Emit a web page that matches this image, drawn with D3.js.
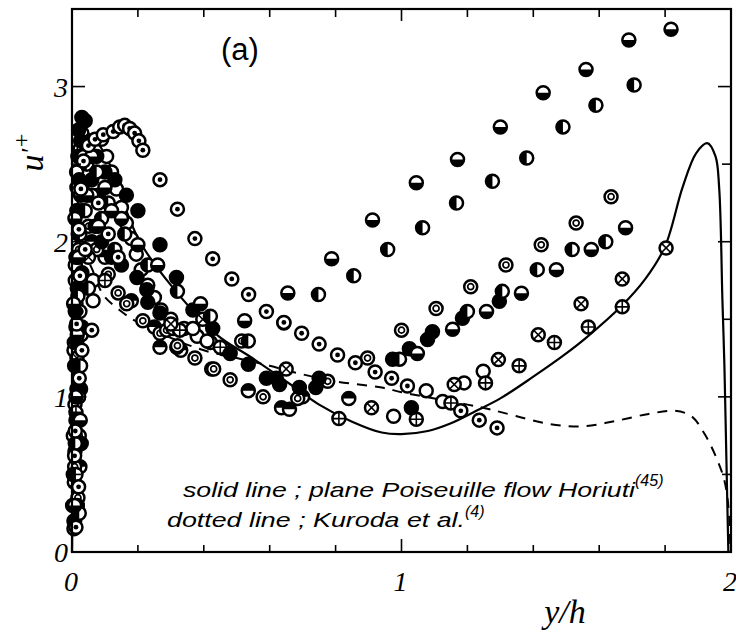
<!DOCTYPE html>
<html><head><meta charset="utf-8">
<script src="https://cdn.jsdelivr.net/npm/d3@7"></script>
<style>body{margin:0;background:#fff}</style></head>
<body><svg id="c" width="736" height="640"></svg>
<script>
// ---------- data (y/h , u'+) ----------
const xTickLabels = ["0","1","2"];
const yTickLabels = ["0","1","2","3"];

const solidLine = [[0,0],[0.004,0.8],[0.008,1.5],[0.014,2.05],[0.022,2.4],[0.035,2.58],[0.055,2.64],[0.075,2.64],[0.1,2.56],[0.13,2.42],[0.165,2.2],[0.206,2.0],[0.3,1.72],[0.44,1.40],[0.54,1.26],[0.67,1.07],[0.75,0.95],[0.85,0.84],[0.94,0.77],[1.0,0.76],[1.08,0.78],[1.15,0.83],[1.227,0.91],[1.3,0.99],[1.4,1.13],[1.5,1.28],[1.56,1.38],[1.67,1.59],[1.74,1.76],[1.8,1.97],[1.853,2.35],[1.894,2.57],[1.928,2.635],[1.953,2.55],[1.964,2.35],[1.974,1.62],[1.98,1.2],[1.986,0.6],[1.992,0]];

const dashedLine = [[0,0],[0.004,0.7],[0.01,1.35],[0.02,1.75],[0.035,1.9],[0.055,1.85],[0.094,1.66],[0.15,1.55],[0.2,1.48],[0.3,1.38],[0.4,1.3],[0.5,1.25],[0.6,1.2],[0.69,1.15],[0.8,1.1],[0.94,1.06],[1.0,1.03],[1.1,0.99],[1.2,0.95],[1.267,0.92],[1.35,0.875],[1.45,0.825],[1.55,0.81],[1.65,0.845],[1.75,0.89],[1.83,0.91],[1.88,0.875],[1.92,0.76],[1.955,0.61],[1.98,0.46],[1.994,0.25],[1.998,0]];

// circle with centre dot
const dotSeries = [[0.012,0.16],[0.02,0.42],[0.01,0.78],[0.022,1.12],[0.014,1.47],[0.024,1.78],[0.021,2.08],[0.027,2.34],[0.035,2.52],[0.05,2.62],[0.07,2.66],[0.095,2.69],[0.125,2.71],[0.145,2.74],[0.16,2.75],[0.175,2.73],[0.19,2.7],[0.203,2.65],[0.215,2.59],[0.267,2.40],[0.32,2.21],[0.373,2.02],[0.427,1.89],[0.485,1.76],[0.536,1.66],[0.59,1.55],[0.643,1.48],[0.697,1.41],[0.75,1.34],[0.806,1.27],[0.86,1.22],[0.92,1.16],[0.97,1.12],[1.018,1.07],[1.18,0.91],[1.236,0.85],[1.29,0.80],
  [0.008,0.62],[0.03,1.3],[0.06,1.43],[0.04,1.95],[0.08,2.25],[0.11,2.05],[0.14,1.9]];

// double circle
const ringSeries = [[0.018,0.35],[0.008,0.55],[0.022,0.75],[0.009,0.95],[0.024,1.55],[0.02,1.95],[0.03,2.2],[0.05,2.1],[0.075,1.95],[0.11,1.79],[0.14,1.67],[0.166,1.60],[0.215,1.49],[0.267,1.41],[0.32,1.33],[0.373,1.25],[0.43,1.18],[0.48,1.11],[0.58,1.00],[0.685,0.99],[0.776,1.10],[0.897,1.25],[1.0,1.43],[1.105,1.57],[1.21,1.71],[1.317,1.85],[1.424,1.98],[1.53,2.12],[1.636,2.29],
  [0.006,0.15],[0.014,1.2],[0.01,1.75],[0.015,2.35],[0.025,2.6],[0.287,1.43],[0.515,1.36]];

// lower half filled
const halfBottomSeries = [[0.008,0.3],[0.025,0.85],[0.016,1.4],[0.02,1.9],[0.026,2.3],[0.035,2.55],[0.06,2.55],[0.1,2.35],[0.15,2.15],[0.2,1.98],[0.26,1.85],[0.39,1.6],[0.524,1.49],[0.655,1.67],[0.788,1.89],[0.912,2.14],[1.045,2.38],[1.17,2.53],[1.30,2.74],[1.43,2.96],[1.56,3.11],[1.69,3.30],[1.818,3.37],
  [1.048,1.28],[1.155,1.436],[1.258,1.55],[1.364,1.668],[1.47,1.82],[1.576,1.95],[1.68,2.09],
  [0.012,1.0],[0.005,1.6],[0.009,2.15],[0.045,2.3],[0.08,2.1],[0.12,2.2]];

// left half filled
const halfLeftSeries = [[0.022,0.25],[0.01,0.7],[0.026,1.2],[0.018,1.65],[0.024,2.05],[0.03,2.35],[0.045,2.5],[0.075,2.45],[0.11,2.25],[0.16,2.05],[0.23,1.85],[0.32,1.68],[0.42,1.52],[0.535,1.36],[0.643,1.476],[0.748,1.66],[0.855,1.78],[0.958,1.95],[1.064,2.09],[1.167,2.25],[1.276,2.39],[1.38,2.54],[1.49,2.74],[1.59,2.88],[1.706,3.01],
  [0.994,1.243],[1.2,1.55],[1.306,1.68],[1.412,1.82],[1.518,1.95],[1.62,2.0],
  [0.012,0.5],[0.02,1.0],[0.012,1.45],[0.04,2.2],[0.06,2.3],[0.09,2.15],[0.13,1.95],[0.05,1.7]];

// upper half filled
const halfTopSeries = [[0.024,0.55],[0.015,1.05],[0.028,1.4],[0.06,2.0],[0.1,1.9],[0.18,1.62],[0.25,1.45],[0.33,1.3],[0.424,1.18],[0.535,1.04],[0.636,0.93],[0.84,0.99],
  [0.015,0.3],[0.007,1.35],[0.03,1.8],[0.267,1.32],[0.318,1.32],[0.66,0.92],[0.7,1.0]];

// solid
const filledSeries = [[0.016,0.3],[0.009,0.65],[0.02,1.0],[0.014,1.35],[0.016,1.7],[0.019,2.05],[0.022,2.4],[0.026,2.65],[0.03,2.8],[0.04,2.78],[0.055,2.65],[0.075,2.55],[0.1,2.45],[0.13,2.4],[0.165,2.3],[0.2,2.2],[0.267,1.98],[0.317,1.77],[0.367,1.56],[0.427,1.44],[0.48,1.28],[0.535,1.21],[0.59,1.12],[0.63,1.08],[0.69,1.06],[0.75,1.12],[1.03,0.93],
  [0.973,1.243],[1.024,1.31],[1.079,1.37],[1.094,1.42],[1.185,1.507],[1.297,1.616],
  [0.008,0.2],[0.004,0.5],[0.012,0.85],[0.008,1.2],[0.026,1.05],[0.01,1.55],[0.012,1.9],[0.015,2.2],[0.018,2.55],[0.02,2.72],[0.045,2.6],[0.06,2.4],[0.08,2.3],[0.07,2.1],[0.09,2.0],[0.12,1.9],[0.15,1.85],[0.197,1.77],[0.227,1.69],[0.23,1.61],[0.267,1.54],[0.74,1.06],[0.62,1.12],[0.028,0.7],[0.03,1.45]];

// open circle
const openSeries = [[0.005,0.5],[0.018,1.0],[0.012,1.6],[0.016,2.2],[0.09,2.66],[0.105,2.55],[0.12,2.45],[0.135,2.34],[0.15,2.22],[0.165,2.12],[0.18,2.02],[0.195,1.92],[0.21,1.82],[0.23,1.72],[0.25,1.64],[0.27,1.56],[0.3,1.5],[0.34,1.44],[0.38,1.39],[0.42,1.35],[0.46,1.31],[0.976,0.875],[1.075,1.04],[1.125,0.97],[1.19,1.09],[1.248,1.165],
  [0.002,0.3],[0.004,0.75],[0.006,1.3],[0.01,1.85],[0.014,2.45],[0.03,2.7],[0.064,1.75],[0.064,1.62],[0.367,1.44],[0.41,1.36]];

// circle with x
const crossSeries = [[0.007,0.45],[0.015,1.25],[0.3,1.47],[0.65,1.18],[0.909,0.93],[1.16,1.08],[1.294,1.24],[1.415,1.40],[1.545,1.60],[1.67,1.76],[1.803,1.96],
  [0.397,1.50],[0.05,1.9]];

// circle with +
const plusSeries = [[0.006,0.2],[0.012,0.9],[0.307,1.44],[0.45,1.32],[0.81,0.86],[1.045,0.856],[1.15,0.96],[1.255,1.09],[1.357,1.20],[1.464,1.35],[1.567,1.45],[1.67,1.58],
  [0.327,1.43],[0.1,1.75]];

// ---------- scales ----------
const svg = d3.select("#c");
const x = d3.scaleLinear().domain([0,2]).range([72,731]);
const y = d3.scaleLinear().domain([0,3.5]).range([552,9]);

// ---------- lines ----------
const line = d3.line().x(d=>x(d[0])).y(d=>y(d[1])).curve(d3.curveCatmullRom.alpha(0.5));
svg.append("path").attr("d", line(dashedLine)).attr("fill","none").attr("stroke","#000").attr("stroke-width",2).attr("stroke-dasharray","10,8");
svg.append("path").attr("d", line(solidLine)).attr("fill","none").attr("stroke","#000").attr("stroke-width",2.2);

// ---------- markers ----------
const R = 6.5;
function drawMarkers(data, type){
  const g = svg.append("g").selectAll("g").data(data).join("g")
    .attr("transform", d=>`translate(${x(d[0])},${y(d[1])})`);
  g.append("circle").attr("r",R).attr("fill", type==="filled"?"#000":"#fff").attr("stroke","#000").attr("stroke-width",2.5);
  if(type==="dot") g.append("circle").attr("r",2.4).attr("fill","#000");
  if(type==="ring") g.append("circle").attr("r",3).attr("fill","none").attr("stroke","#000").attr("stroke-width",1.7);
  if(type==="halfBottom") g.append("path").attr("d",`M${-R},0 A${R},${R} 0 0 0 ${R},0 Z`).attr("fill","#000");
  if(type==="halfTop") g.append("path").attr("d",`M${-R},0 A${R},${R} 0 0 1 ${R},0 Z`).attr("fill","#000");
  if(type==="halfLeft") g.append("path").attr("d",`M0,${-R} A${R},${R} 0 0 0 0,${R} Z`).attr("fill","#000");
  if(type==="cross"){ const k=R*0.7; g.append("path").attr("d",`M${-k},${-k}L${k},${k}M${-k},${k}L${k},${-k}`).attr("stroke","#000").attr("stroke-width",1.6); }
  if(type==="plus"){ g.append("path").attr("d",`M${-R},0L${R},0M0,${-R}L0,${R}`).attr("stroke","#000").attr("stroke-width",1.6); }
}
drawMarkers(openSeries,"open");
drawMarkers(halfTopSeries,"halfTop");
drawMarkers(ringSeries,"ring");
drawMarkers(plusSeries,"plus");
drawMarkers(crossSeries,"cross");
drawMarkers(filledSeries,"filled");
drawMarkers(halfLeftSeries,"halfLeft");
drawMarkers(halfBottomSeries,"halfBottom");
drawMarkers(dotSeries,"dot");

// ---------- frame & ticks ----------
const frame = svg.append("g").attr("stroke","#000").attr("fill","none");
frame.append("rect").attr("x",x(0)).attr("y",y(3.5)).attr("width",x(2)-x(0)).attr("height",y(0)-y(3.5)).attr("stroke-width",2.2);
const xt = d3.range(0,2.0001,0.2);
const yt = d3.range(0,3.5001,0.5);
xt.forEach(v=>{
  const major = Math.abs(v-Math.round(v))<1e-6;
  const L = major?13:7;
  frame.append("line").attr("x1",x(v)).attr("x2",x(v)).attr("y1",y(0)).attr("y2",y(0)-L).attr("stroke-width",1.6);
  frame.append("line").attr("x1",x(v)).attr("x2",x(v)).attr("y1",y(3.5)).attr("y2",y(3.5)+(major?12:8)).attr("stroke-width",1.6);
});
yt.forEach(v=>{
  const major = Math.abs(v-Math.round(v))<1e-6;
  const L = major?13:9;
  frame.append("line").attr("x1",x(0)).attr("x2",x(0)+L).attr("y1",y(v)).attr("y2",y(v)).attr("stroke-width",1.6);
  frame.append("line").attr("x1",x(2)).attr("x2",x(2)-L).attr("y1",y(v)).attr("y2",y(v)).attr("stroke-width",1.6);
});

// tick labels
const serif = "'Liberation Serif','DejaVu Serif',serif";
svg.append("g").selectAll("text").data(yTickLabels).join("text")
  .attr("x",x(0)-4).attr("y",d=>y(+d)+10).attr("text-anchor","end")
  .attr("font-family",serif).attr("font-style","italic").attr("font-size",28).text(d=>d);
svg.append("g").selectAll("text").data(xTickLabels).join("text")
  .attr("x",d=>x(+d)-1).attr("y",591).attr("text-anchor","middle")
  .attr("font-family",serif).attr("font-style","italic").attr("font-size",28).text(d=>d);

// axis titles
svg.append("text").attr("x",565).attr("y",623).attr("text-anchor","middle")
  .attr("font-family",serif).attr("font-style","italic").attr("font-size",34).text("y/h");
const yl = svg.append("text").attr("transform","translate(43,152) rotate(-90)").attr("text-anchor","middle")
  .attr("font-family",serif).attr("font-style","italic").attr("font-size",34);
yl.append("tspan").text("u");
yl.append("tspan").attr("font-size",26).attr("dy",-4).text("'");
yl.append("tspan").attr("font-size",24).attr("dy",-10).text("+");

// panel label
svg.append("text").attr("x",240).attr("y",60).attr("text-anchor","middle")
  .attr("font-family","'Liberation Sans',Arial,sans-serif").attr("font-size",31).text("(a)");

// annotation
const sans = "'Liberation Sans',Arial,sans-serif";
const t1 = svg.append("text").attr("x",183).attr("y",497).attr("font-family",sans).attr("font-style","italic").attr("font-size",21);
t1.append("tspan").attr("textLength",452).attr("lengthAdjust","spacingAndGlyphs").text("solid line ; plane Poiseuille flow  Horiuti");
t1.append("tspan").attr("font-size",16).attr("dy",-11).text("(45)");
const t2 = svg.append("text").attr("x",167).attr("y",527).attr("font-family",sans).attr("font-style","italic").attr("font-size",21);
t2.append("tspan").attr("textLength",298).attr("lengthAdjust","spacingAndGlyphs").text("dotted line ; Kuroda et al.");
t2.append("tspan").attr("font-size",16).attr("dy",-10).text("(4)");
</script></body></html>
